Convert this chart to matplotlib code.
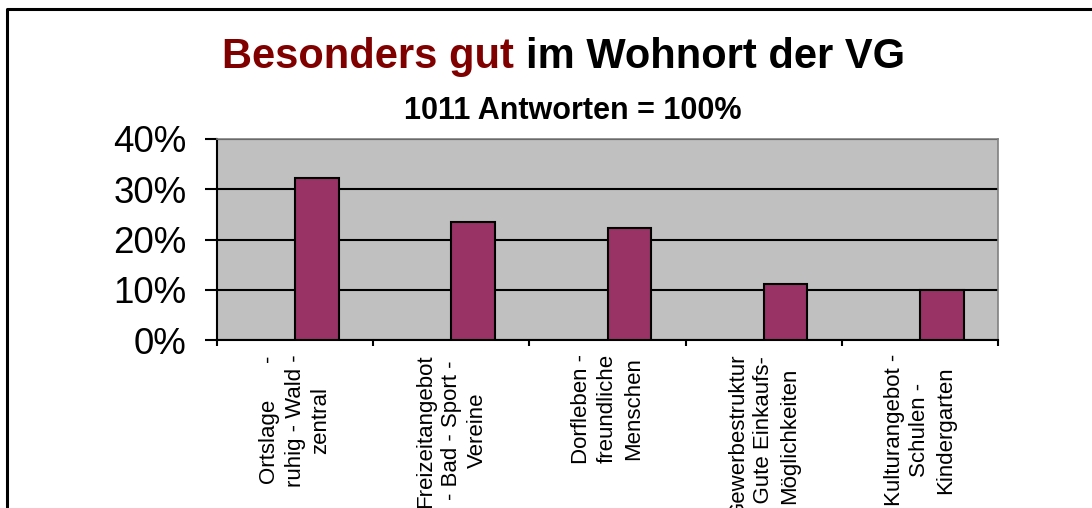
import matplotlib
matplotlib.use("Agg")
import matplotlib.pyplot as plt
import matplotlib.ticker as ticker
from matplotlib.lines import Line2D

plt.rcParams["font.family"] = ["Liberation Sans", "DejaVu Sans"]

# ── data ─────────────────────────────────────────────────────────────────────
CATEGORIES = [
    "Ortslage      -\nruhig - Wald -\nzentral",
    "Freizeitangebot\n- Bad - Sport -\nVereine",
    "Dorfleben -\nfreundliche\nMenschen",
    "Gewerbestruktur\n- Gute Einkaufs-\nMöglichkeiten",
    "Kulturangebot -\nSchulen -\nKindergarten",
]
VALUES = [0.323, 0.235, 0.223, 0.112, 0.099]
Y_TICKS = [0.0, 0.1, 0.2, 0.3, 0.4]

TITLE_RED = "Besonders gut "
TITLE_BLACK = "im Wohnort der VG"
SUBTITLE = "1011 Antworten = 100%"

BAR_COLOR = "#993366"
PLOT_BG = "#C0C0C0"

W, H = 1092, 508
fig = plt.figure(figsize=(W / 100, H / 100), dpi=100)
ax = fig.add_axes([217 / W, 1 - 340 / H, (998 - 217) / W, (340 - 139) / H])
ax.set_facecolor(PLOT_BG)

# bars sit in the right half of each category slot (Excel style)
xs = [i + 0.5 for i in range(len(VALUES))]
ax.bar(xs, VALUES, width=0.28, align="edge", color=BAR_COLOR,
       edgecolor="black", linewidth=1.5, zorder=3)

ax.set_xlim(0, len(VALUES))
ax.set_ylim(0, 0.4)
ax.set_yticks(Y_TICKS)
ax.yaxis.set_major_formatter(ticker.FuncFormatter(lambda v, _: f"{v:.0%}"))
ax.grid(axis="y", color="black", linewidth=1.5, zorder=1)
ax.set_axisbelow(True)

# category boundaries get the tick marks, centres get the labels
ax.set_xticks(range(len(VALUES) + 1))
ax.set_xticklabels([])
ax.set_xticks(xs, minor=True)
ax.set_xticklabels(CATEGORIES, minor=True, rotation=90, fontsize=16,
                   ha="center", va="top", multialignment="center",
                   linespacing=1.3)
ax.tick_params(axis="x", which="major", direction="out", length=4, width=1.5)
ax.tick_params(axis="x", which="minor", length=0, pad=10)
ax.tick_params(axis="y", direction="out", length=9, width=1.5,
               labelsize=26.5, pad=13)

for side in ("left", "bottom"):
    ax.spines[side].set_color("black")
    ax.spines[side].set_linewidth(1.5)
for side in ("top", "right"):
    ax.spines[side].set_color("#808080")
    ax.spines[side].set_linewidth(1.2)

# ── title in two colours ─────────────────────────────────────────────────────
fig.canvas.draw()
r = fig.canvas.get_renderer()
t1 = fig.text(0, 1 - 68 / H, TITLE_RED, fontsize=30, fontweight="bold",
              color="#800000", ha="left", va="baseline")
t2 = fig.text(0, 1 - 68 / H, TITLE_BLACK, fontsize=30, fontweight="bold",
              color="black", ha="left", va="baseline")
w1 = t1.get_window_extent(r).width
w2 = t2.get_window_extent(r).width
x0 = 563.5 - (w1 + w2) / 2
t1.set_x(x0 / W)
t2.set_x((x0 + w1) / W)

fig.text(573 / W, 1 - 119 / H, SUBTITLE, fontsize=22, fontweight="bold",
         ha="center", va="baseline")

# outer chart frame (only left and top edges fall inside the picture)
fig.add_artist(Line2D([7 / W, 7 / W, 1.0], [0.0, 1 - 9 / H, 1 - 9 / H],
                      transform=fig.transFigure, color="black", linewidth=2.2))

fig.savefig("out.png", dpi=100)
